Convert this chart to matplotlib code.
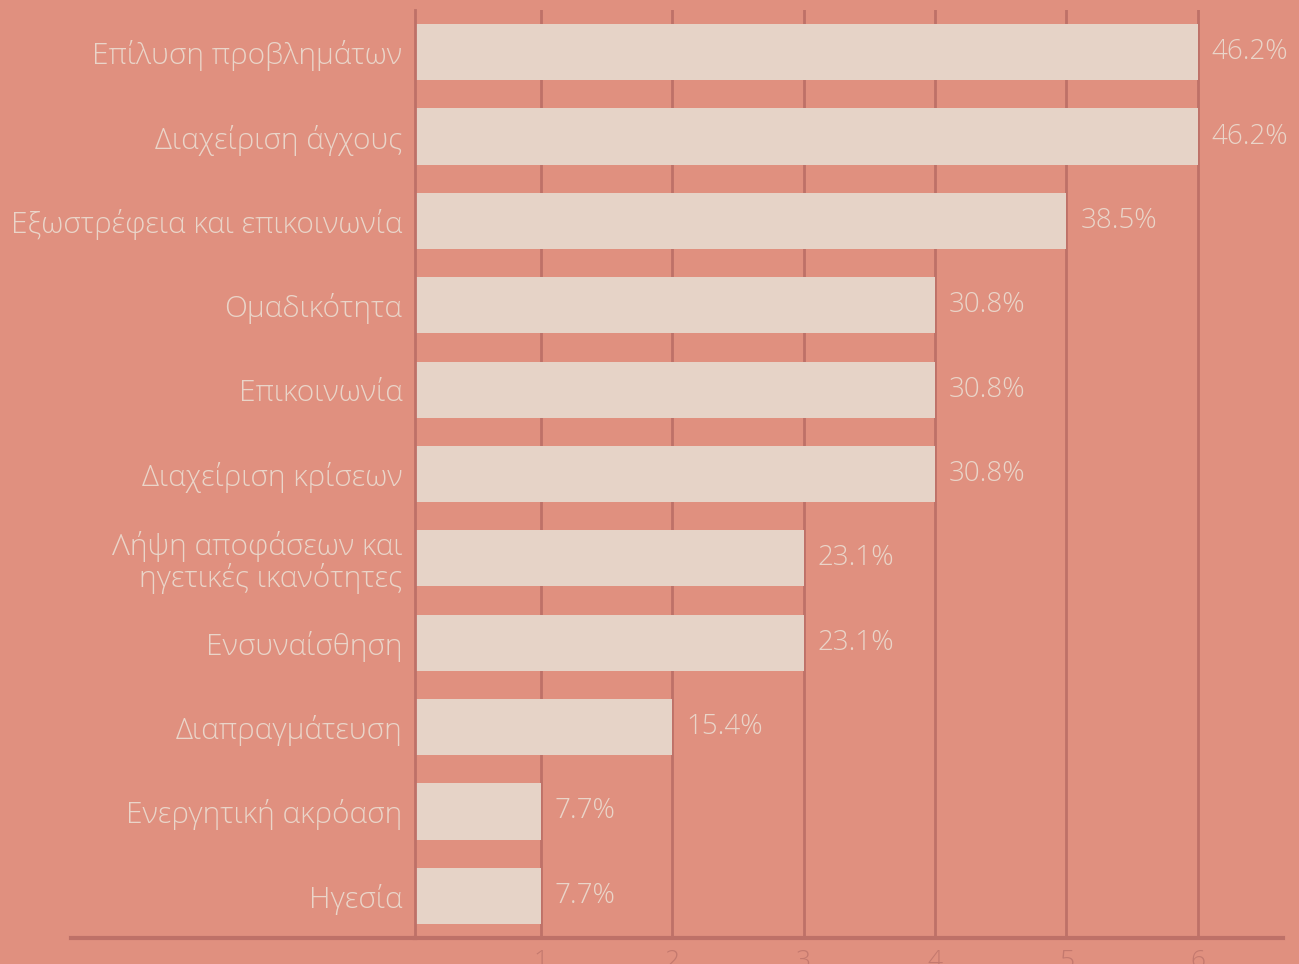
import matplotlib
matplotlib.use("Agg")
import matplotlib.pyplot as plt
from matplotlib.lines import Line2D

categories = [
    "Επίλυση προβλημάτων",
    "Διαχείριση άγχους",
    "Εξωστρέφεια και επικοινωνία",
    "Ομαδικότητα",
    "Επικοινωνία",
    "Διαχείριση κρίσεων",
    "Λήψη αποφάσεων και\nηγετικές ικανότητες",
    "Ενσυναίσθηση",
    "Διαπραγμάτευση",
    "Ενεργητική ακρόαση",
    "Ηγεσία",
]
counts = [6, 6, 5, 4, 4, 4, 3, 3, 2, 1, 1]
percent_labels = ["46.2%", "46.2%", "38.5%", "30.8%", "30.8%", "30.8%",
                  "23.1%", "23.1%", "15.4%", "7.7%", "7.7%"]
x_ticks = [1, 2, 3, 4, 5, 6]

BG = "#E0907F"
BAR = "#E6D3C7"
GRID = "#BE7168"
TEXT = "#EAD5C9"
TICK = "#C4796E"

plt.rcParams["font.family"] = ["Open Sans", "DejaVu Sans"]
plt.rcParams["font.weight"] = "light"

W, H = 1299, 964
fig = plt.figure(figsize=(W / 100, H / 100), dpi=100, facecolor=BG)

left_px, right_px, top_px, bottom_px = 415, 1283, 10, 938
ax = fig.add_axes([left_px / W, 1 - bottom_px / H,
                   (right_px - left_px) / W, (bottom_px - top_px) / H])
ax.set_facecolor(BG)

n = len(categories)
ypos = list(range(n))
ax.set_ylim(n - 0.5, -0.5)
ax.set_xlim(0.04, 6.65)

ax.set_axisbelow(True)
ax.xaxis.grid(True, color=GRID, linewidth=2)
ax.yaxis.grid(False)

ax.barh(ypos, counts, height=0.665, color=BAR, zorder=3)

for y, v, lab in zip(ypos, counts, percent_labels):
    ax.annotate(lab, (v, y), xytext=(10, 0), textcoords="offset points",
                ha="left", va="center", color=TEXT, fontsize=20,
                fontweight="light", zorder=4)

ax.set_yticks(ypos)
ax.set_yticklabels(categories, color=TEXT, fontsize=21.5,
                   fontweight="light", linespacing=1.05)
ax.tick_params(axis="y", length=0, pad=9)

ax.set_xticks(x_ticks)
ax.set_xticklabels([str(t) for t in x_ticks], color=TICK, fontsize=19,
                   fontweight="light")
ax.tick_params(axis="x", length=0, pad=8)

for s in ["top", "right"]:
    ax.spines[s].set_visible(False)
ax.spines["left"].set_color(GRID)
ax.spines["left"].set_linewidth(2)
ax.spines["bottom"].set_color(GRID)
ax.spines["bottom"].set_linewidth(3)
ax.spines["left"].set_zorder(5)

# extend the baseline to the left under the category labels
yb = 1 - bottom_px / H
fig.add_artist(Line2D([71 / W, left_px / W], [yb, yb], color=GRID,
                      linewidth=3, transform=fig.transFigure))

fig.savefig("out.png", dpi=100, facecolor=BG)
